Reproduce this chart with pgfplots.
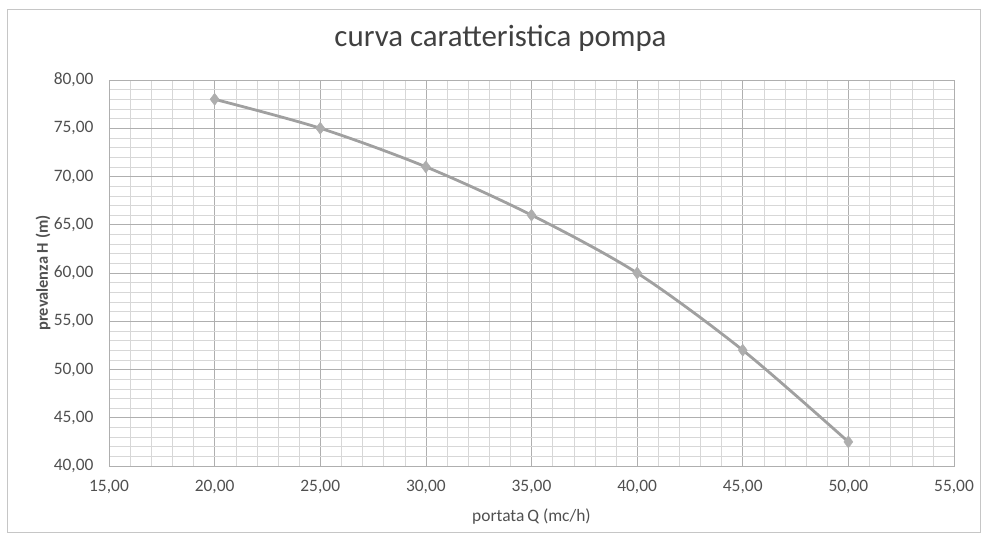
\documentclass[border=0pt]{standalone}
\usepackage{pgfplots}
\pgfplotsset{compat=1.18}
\usepackage{fontspec}
\setmainfont{Carlito}

\definecolor{curvegray}{RGB}{160,160,160}
\definecolor{majgrid}{RGB}{175,175,175}
\definecolor{mingrid}{RGB}{215,215,215}
\definecolor{labgray}{RGB}{80,80,80}

\begin{document}
\begin{tikzpicture}[x=1bp,y=1bp]
% page frame
\path[use as bounding box] (-109,-77) rectangle (877,466);
\draw[gray!45, line width=1bp] (-101,-67) rectangle (871,456);

\begin{axis}[
    at={(0,0)}, anchor=origin,
    scale only axis,
    width=845bp, height=386bp,
    xmin=15, xmax=55,
    ymin=40, ymax=80,
    xtick distance=5, ytick distance=5,
    minor tick num=4,
    grid=both,
    major grid style={majgrid, line width=0.6bp},
    minor grid style={mingrid, line width=0.5bp},
    axis line style={majgrid},
    tick style={draw=none},
    tick label style={font=\fontsize{17.5}{19}\selectfont, text=labgray},
    /pgf/number format/.cd, fixed, fixed zerofill, precision=2, use comma,
      assume math mode=true, 1000 sep={},
    /pgfplots/.cd,
    xticklabel style={yshift=-11bp},
    yticklabel style={xshift=-12bp},
    xlabel={portata\,Q (mc/h)},
    ylabel={\textbf{prevalenza H (m)}},
    xlabel style={font=\fontsize{17.5}{19}\selectfont, text=labgray,
        at={(0.5,0)}, anchor=center, yshift=-51bp},
    ylabel style={font=\fontsize{16.5}{18}\selectfont, text=labgray,
        at={(0,0.5)}, anchor=center, yshift=66bp},
    title={curva caratteristica pompa},
    title style={font=\fontsize{31}{34}\selectfont, text=black!75,
        at={(0.5,1)}, anchor=base, yshift=28bp, xshift=-31bp},
]
\addplot[
    curvegray, line width=2.8bp, smooth,
    mark=diamond*, mark size=6bp,
    mark options={fill=curvegray!85, draw=curvegray!85, line width=0.5bp},
] coordinates {
    (20,78.0) (25,75.0) (30,71.0) (35,66.0) (40,60.0) (45,52.0) (50,42.5)
};
\end{axis}
\end{tikzpicture}
\end{document}
